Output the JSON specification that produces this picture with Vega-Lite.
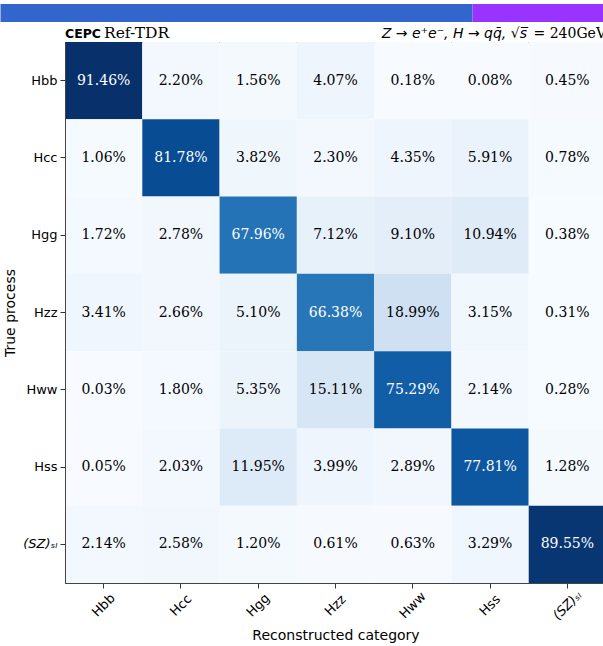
{
  "$schema": "https://vega.github.io/schema/vega-lite/v6.json",
  "padding": {"left": 0, "top": 4, "right": 0, "bottom": 0},
  "background": "white",
  "config": {"view": {"stroke": null}, "font": "DejaVu Sans"},
  "datasets": {
    "banner": [
      {"seg": "blue", "start": -0.11922, "end": 0.75323},
      {"seg": "purple", "start": 0.75323, "end": 1.0}
    ],
    "header": [
      {"part": "CEPC", "pos": 0},
      {"part": "Ref-TDR", "pos": 0},
      {"part": "Z → e⁺e⁻, H → qq̄, √s̅", "pos": 1},
      {"part": "= 240GeV", "pos": 1}
    ],
    "cm": [
      {"true": "Hbb", "pred": "Hbb", "p": 0.9146},
      {"true": "Hbb", "pred": "Hcc", "p": 0.0220},
      {"true": "Hbb", "pred": "Hgg", "p": 0.0156},
      {"true": "Hbb", "pred": "Hzz", "p": 0.0407},
      {"true": "Hbb", "pred": "Hww", "p": 0.0018},
      {"true": "Hbb", "pred": "Hss", "p": 0.0008},
      {"true": "Hbb", "pred": "SZsl", "p": 0.0045},
      {"true": "Hcc", "pred": "Hbb", "p": 0.0106},
      {"true": "Hcc", "pred": "Hcc", "p": 0.8178},
      {"true": "Hcc", "pred": "Hgg", "p": 0.0382},
      {"true": "Hcc", "pred": "Hzz", "p": 0.0230},
      {"true": "Hcc", "pred": "Hww", "p": 0.0435},
      {"true": "Hcc", "pred": "Hss", "p": 0.0591},
      {"true": "Hcc", "pred": "SZsl", "p": 0.0078},
      {"true": "Hgg", "pred": "Hbb", "p": 0.0172},
      {"true": "Hgg", "pred": "Hcc", "p": 0.0278},
      {"true": "Hgg", "pred": "Hgg", "p": 0.6796},
      {"true": "Hgg", "pred": "Hzz", "p": 0.0712},
      {"true": "Hgg", "pred": "Hww", "p": 0.0910},
      {"true": "Hgg", "pred": "Hss", "p": 0.1094},
      {"true": "Hgg", "pred": "SZsl", "p": 0.0038},
      {"true": "Hzz", "pred": "Hbb", "p": 0.0341},
      {"true": "Hzz", "pred": "Hcc", "p": 0.0266},
      {"true": "Hzz", "pred": "Hgg", "p": 0.0510},
      {"true": "Hzz", "pred": "Hzz", "p": 0.6638},
      {"true": "Hzz", "pred": "Hww", "p": 0.1899},
      {"true": "Hzz", "pred": "Hss", "p": 0.0315},
      {"true": "Hzz", "pred": "SZsl", "p": 0.0031},
      {"true": "Hww", "pred": "Hbb", "p": 0.0003},
      {"true": "Hww", "pred": "Hcc", "p": 0.0180},
      {"true": "Hww", "pred": "Hgg", "p": 0.0535},
      {"true": "Hww", "pred": "Hzz", "p": 0.1511},
      {"true": "Hww", "pred": "Hww", "p": 0.7529},
      {"true": "Hww", "pred": "Hss", "p": 0.0214},
      {"true": "Hww", "pred": "SZsl", "p": 0.0028},
      {"true": "Hss", "pred": "Hbb", "p": 0.0005},
      {"true": "Hss", "pred": "Hcc", "p": 0.0203},
      {"true": "Hss", "pred": "Hgg", "p": 0.1195},
      {"true": "Hss", "pred": "Hzz", "p": 0.0399},
      {"true": "Hss", "pred": "Hww", "p": 0.0289},
      {"true": "Hss", "pred": "Hss", "p": 0.7781},
      {"true": "Hss", "pred": "SZsl", "p": 0.0128},
      {"true": "SZsl", "pred": "Hbb", "p": 0.0214},
      {"true": "SZsl", "pred": "Hcc", "p": 0.0258},
      {"true": "SZsl", "pred": "Hgg", "p": 0.0120},
      {"true": "SZsl", "pred": "Hzz", "p": 0.0061},
      {"true": "SZsl", "pred": "Hww", "p": 0.0063},
      {"true": "SZsl", "pred": "Hss", "p": 0.0329},
      {"true": "SZsl", "pred": "SZsl", "p": 0.8955}
    ]
  },
  "concat": [
    {
      "width": 541,
      "height": 18,
      "data": {"name": "banner"},
      "mark": {"type": "rect", "clip": false},
      "encoding": {
        "x": {"field": "start", "type": "quantitative", "scale": {"domain": [0, 1], "nice": false, "zero": false}, "axis": null},
        "x2": {"field": "end"},
        "color": {"field": "seg", "type": "nominal", "scale": {"domain": ["blue", "purple"], "range": ["#3366cc", "#9933ff"]}, "legend": null}
      }
    },
    {
      "width": 541,
      "height": 19,
      "data": {"name": "header"},
      "encoding": {
        "x": {"field": "pos", "type": "quantitative", "scale": {"domain": [0, 1], "nice": false, "zero": false}, "axis": null},
        "text": {"field": "part"}
      },
      "layer": [
        {
          "transform": [{"filter": "datum.part === 'CEPC'"}],
          "mark": {"type": "text", "align": "left", "baseline": "alphabetic", "dy": 6, "font": "DejaVu Sans", "fontWeight": "bold", "fontSize": 12.5, "color": "black"}
        },
        {
          "transform": [{"filter": "datum.part === 'Ref-TDR'"}],
          "mark": {"type": "text", "align": "left", "baseline": "alphabetic", "dy": 6, "dx": 39, "font": "DejaVu Serif", "fontSize": 15.5, "color": "black"}
        },
        {
          "transform": [{"filter": "datum.part === '= 240GeV'"}],
          "mark": {"type": "text", "align": "right", "baseline": "alphabetic", "dy": 6, "font": "DejaVu Serif", "fontSize": 14, "color": "black"}
        },
        {
          "transform": [{"filter": "datum.pos === 1 && datum.part !== '= 240GeV'"}],
          "mark": {"type": "text", "align": "right", "baseline": "alphabetic", "dy": 6, "dx": -79, "font": "DejaVu Sans", "fontStyle": "italic", "fontSize": 14, "color": "black"}
        }
      ]
    },
    {
      "width": 541,
      "height": 541,
      "data": {"name": "cm"},
      "view": {"stroke": "#444", "strokeWidth": 1},
      "encoding": {
        "x": {
          "field": "pred", "type": "nominal",
          "sort": ["Hbb", "Hcc", "Hgg", "Hzz", "Hww", "Hss", "SZsl"],
          "scale": {"paddingInner": 0, "paddingOuter": 0},
          "axis": {
            "title": "Reconstructed category",
            "labelAngle": -45, "labelAlign": "center", "labelBaseline": "middle",
            "labelPadding": 17, "labelFontSize": 13, "labelFont": "DejaVu Sans", "labelColor": "black",
            "labelOverlap": false,
            "labelExpr": "datum.value === 'SZsl' ? '(SZ)ₛₗ' : datum.value",
            "labelFontStyle": {"condition": {"test": "datum.value === 'SZsl'", "value": "italic"}, "value": "normal"},
            "tickSize": 5, "tickColor": "#333", "domainColor": "#444",
            "titleFontSize": 14, "titleFont": "DejaVu Sans", "titleFontWeight": "normal", "titleColor": "black", "titlePadding": 6
          }
        },
        "y": {
          "field": "true", "type": "nominal",
          "sort": ["Hbb", "Hcc", "Hgg", "Hzz", "Hww", "Hss", "SZsl"],
          "scale": {"paddingInner": 0, "paddingOuter": 0},
          "axis": {
            "title": "True process",
            "labelPadding": 3, "labelFontSize": 13, "labelFont": "DejaVu Sans", "labelColor": "black",
            "labelOverlap": false,
            "labelExpr": "datum.value === 'SZsl' ? '(SZ)ₛₗ' : datum.value",
            "labelFontStyle": {"condition": {"test": "datum.value === 'SZsl'", "value": "italic"}, "value": "normal"},
            "tickSize": 5, "tickColor": "#333", "domainColor": "#444",
            "titleFontSize": 14, "titleFont": "DejaVu Sans", "titleFontWeight": "normal", "titleColor": "black", "titlePadding": 5
          }
        }
      },
      "layer": [
        {
          "mark": {"type": "rect"},
          "encoding": {
            "color": {
              "field": "p", "type": "quantitative",
              "scale": {
                "domain": [0.0003, 0.1146, 0.2289, 0.3432, 0.4575, 0.5717, 0.6860, 0.8003, 0.9146],
                "range": ["#f7fbff", "#deebf7", "#c6dbef", "#9ecae1", "#6baed6", "#4292c6", "#2171b5", "#08519c", "#08306b"],
                "interpolate": "rgb"
              },
              "legend": null
            }
          }
        },
        {
          "mark": {"type": "text", "font": "DejaVu Serif", "fontSize": 14},
          "encoding": {
            "text": {"field": "p", "type": "quantitative", "format": ".2%"},
            "color": {"condition": {"test": "datum.p > 0.4575", "value": "white"}, "value": "black"}
          }
        }
      ]
    }
  ],
  "columns": 1,
  "align": "each",
  "spacing": 0
}
